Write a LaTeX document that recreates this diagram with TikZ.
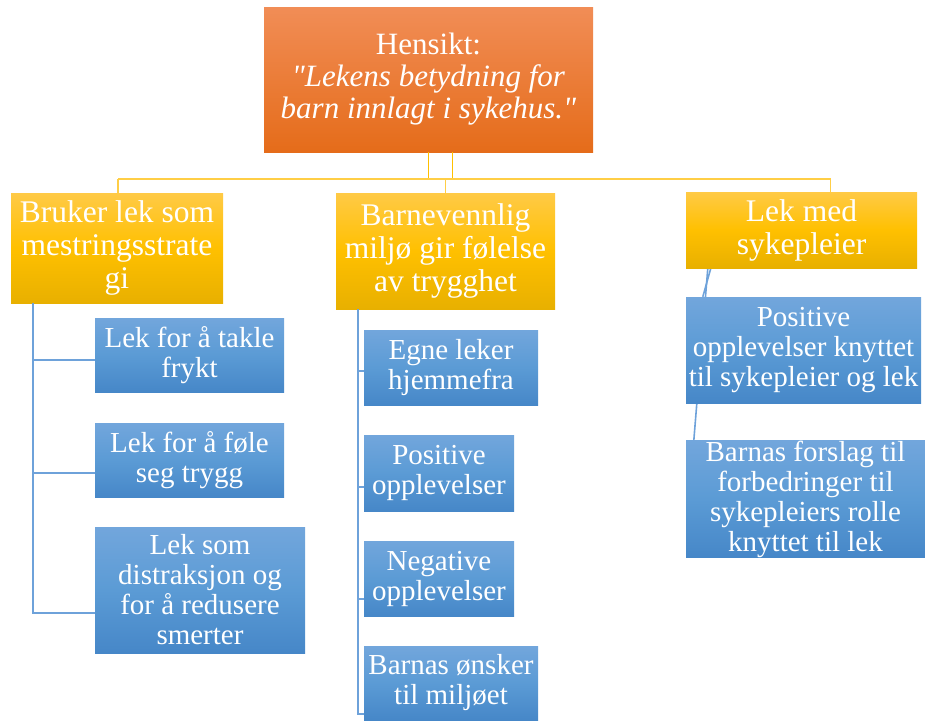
\documentclass[tikz,border=0pt]{standalone}
\usepackage{fontspec}
\setmainfont{Liberation Serif}[Ligatures=TeXOff]
\usetikzlibrary{calc,backgrounds}

\definecolor{orangetop}{RGB}{241,141,86}
\definecolor{orangebot}{RGB}{229,108,26}
\definecolor{goldtop}{RGB}{255,202,70}
\definecolor{goldmid}{RGB}{255,192,0}
\definecolor{goldbot}{RGB}{232,176,0}
\definecolor{bluetop}{RGB}{114,166,220}
\definecolor{bluemid}{RGB}{91,155,213}
\definecolor{bluebot}{RGB}{70,135,200}
\definecolor{goldline}{RGB}{255,206,70}
\definecolor{blueline}{RGB}{110,162,218}

\tikzset{
  box/.style={inner sep=0pt, align=center, text=white},
  aimbox/.style={box, top color=orangetop, bottom color=orangebot, font=\fontsize{31}{32}\selectfont},
  themebox/.style={box, top color=goldtop, bottom color=goldbot, middle color=goldmid, font=\fontsize{31.5}{33}\selectfont},
  subbox/.style={box, top color=bluetop, bottom color=bluebot, middle color=bluemid, font=\fontsize{29}{30}\selectfont},
}
\def\drawgold{\draw[color=goldline, line width=1.6pt]}
\def\drawblue{\draw[color=blueline, line width=1.6pt]}

\begin{document}
\begin{tikzpicture}[x=1pt,y=-1pt]
\useasboundingbox (0,0) rectangle (925,720);

% -------- the aim on top ---------
\node[aimbox, minimum width=329pt, minimum height=145pt] (aim) at (428.5,79.5)
  {Hensikt:\\ \textit{"Lekens betydning for}\\ \textit{barn innlagt i sykehus."}};

% -------- the three themes ---------
\node[themebox, minimum width=212pt, minimum height=110pt] (coping) at (117,248) {Bruker lek som\\ mestringsstrate\\ gi};
\node[themebox, minimum width=219pt, minimum height=116pt] (milieu) at (445.5,251) {Barnevennlig\\ miljø gir følelse\\ av trygghet};
\node[themebox, minimum width=231pt, minimum height=76pt] (nurse) at (801.5,230) {Lek med\\ sykepleier};

% the bar between aim and themes
\coordinate (bar_left) at (118,179);
\coordinate (bar_right) at (830.5,179);
\draw[color=goldmid, line width=1.6pt] (aim.south) -- (aim.south |- bar_left);
\draw[color=goldmid, line width=1.6pt] ($(aim.south)+(24,0)$) -- ($(aim.south |- bar_left)+(24,0)$);
\drawgold (bar_left) -- (bar_right);
\drawgold (bar_left) -- (bar_left |- coping.north);
\drawgold (milieu.north |- bar_left) -- (milieu.north);
\drawgold (bar_right) -- (bar_right |- nurse.north);

% -------- left: coping ---------
\node[subbox, minimum width=189pt, minimum height=74pt] (fear) at (189.5,355) {Lek for å takle\\ frykt};
\node[subbox, minimum width=189pt, minimum height=74pt] (safe) at (189.5,460) {Lek for å føle\\ seg trygg};
\node[subbox, minimum width=210pt, minimum height=126pt] (pain) at (200,590) {Lek som\\ distraksjon og\\ for å redusere\\ smerter};
\coordinate (coping_spine) at ($(coping.south west)+(22,0)$);
\foreach \leaf/\dy in {fear/5, safe/13, pain/23}
  \drawblue (coping_spine) |- ($(\leaf.west)+(0,\dy)$);

% -------- middle: milieu ---------
\node[subbox, minimum width=174pt, minimum height=75pt] (toys) at (451,367.5) {Egne leker\\ hjemmefra};
\node[subbox, minimum width=150pt, minimum height=76pt] (posexp) at (439,473) {Positive\\ opplevelser};
\node[subbox, minimum width=150pt, minimum height=75pt] (negexp) at (439,578.5) {Negative\\ opplevelser};
\node[subbox, minimum width=174pt, minimum height=74pt] (wishes) at (451,683) {Barnas ønsker\\ til miljøet};
\coordinate (milieu_spine) at ($(milieu.south west)+(22,0)$);
\foreach \leaf/\dy in {toys/3.5, posexp/14, negexp/20.5, wishes/31}
  \drawblue (milieu_spine) |- ($(\leaf.west)+(0,\dy)$);

% -------- right: nurse ---------
\node[subbox, minimum width=235pt, minimum height=106pt] (nursepos) at (803.5,350) {Positive\\ opplevelser knyttet\\ til sykepleier og lek};
\node[subbox, minimum width=239pt, minimum height=112pt] (nurseidea) at (805.5,499) {Barnas forslag til\\ forbedringer til\\ sykepleiers rolle\\ knyttet til lek};
\begin{scope}[on background layer]
\drawblue ($(nurse.south west)+(25,0)$) -- ($(nursepos.north west)+(17,0)$);
\drawblue ($(nurse.south west)+(22,0)$) -- ($(nurseidea.north west)+(8,0)$);
\end{scope}
\end{tikzpicture}
\end{document}
